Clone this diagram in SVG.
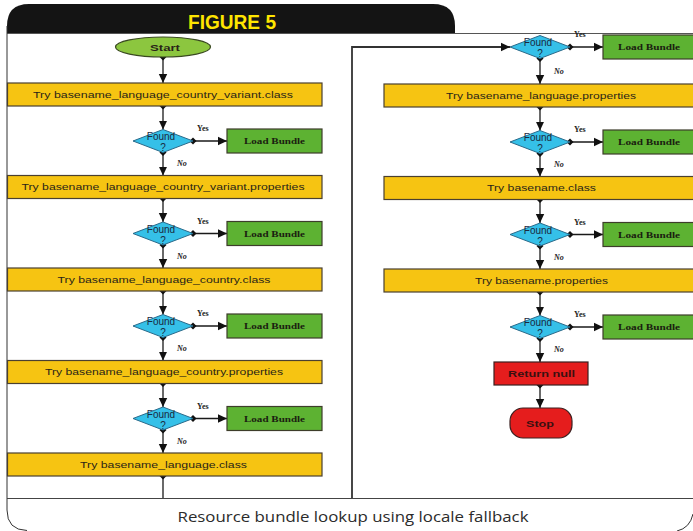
<svg xmlns="http://www.w3.org/2000/svg" width="693" height="531" viewBox="0 0 693 531">
  <defs>
    <marker id="arrow" markerUnits="userSpaceOnUse" markerWidth="10" markerHeight="10" viewBox="0 0 10 10" refX="9" refY="5" orient="auto">
      <path d="M0,0.8 L9,5 L0,9.2 Z" fill="#111"/>
    </marker>
    <marker id="dot" markerUnits="userSpaceOnUse" markerWidth="8" markerHeight="8" viewBox="0 0 8 8" refX="4" refY="4" orient="auto">
      <path d="M4,0.5 L7.5,4 L4,7.5 L0.5,4 Z" fill="#111"/>
    </marker>
    <style>
      .proc { fill: #f6c412; stroke: #4a4030; stroke-width: 1.2; }
      .load { fill: #5db232; stroke: #3d3d2a; stroke-width: 1.2; }
      .dec { fill: #35c0e8; stroke: #2a6a8a; stroke-width: 1; }
      .red { fill: #e51d1d; stroke: #3a2020; stroke-width: 1.2; }
      .ptxt { font-family: "Liberation Sans", Arial, sans-serif; font-size: 9px; fill: #2a2418; text-anchor: middle; }
      .ltxt { font-family: "Liberation Serif", "Times New Roman", serif; font-size: 9px; font-weight: bold; fill: #1a2010; text-anchor: middle; }
      .dtxt { font-family: "Liberation Sans", Arial, sans-serif; font-size: 10px; fill: #1a2a40; text-anchor: middle; }
      .yn { font-family: "Liberation Serif", "Times New Roman", serif; font-size: 8px; font-weight: bold; fill: #222; }
      .conn { fill: none; stroke: #1a1a1a; stroke-width: 1.3; marker-start: url(#dot); marker-end: url(#arrow); }
      .rtxt { font-family: "Liberation Sans", Arial, sans-serif; font-size: 9px; font-weight: bold; fill: #3a1010; text-anchor: middle; }
    </style>
  </defs>

  <!-- page frame -->
  <rect x="0" y="0" width="693" height="531" fill="#ffffff"/>
  <path d="M7,33 L7,26 Q7,4 29,4 L433,4 Q455,4 455,26 L455,33 Z" fill="#141414"/>
  <text x="232" y="29" font-family="Liberation Sans, Arial, sans-serif" font-size="20" font-weight="bold" fill="#ffe500" text-anchor="middle" textLength="88" lengthAdjust="spacingAndGlyphs">FIGURE  5</text>
  <line x1="7" y1="33.5" x2="693" y2="33.5" stroke="#555" stroke-width="1"/>
  <path d="M7,26 L7,510 Q7,530 27,530.5" fill="none" stroke="#333" stroke-width="1"/>
  <line x1="7" y1="498.5" x2="693" y2="498.5" stroke="#444" stroke-width="1"/>
  <path d="M693,514 Q690,528 677,531" fill="none" stroke="#333" stroke-width="1"/>
  <text x="353" y="522" font-family="Open Sans, Liberation Sans, sans-serif" font-size="15" fill="#2b2b2b" text-anchor="middle" textLength="351" lengthAdjust="spacingAndGlyphs">Resource bundle lookup using locale fallback</text>

  <!-- connectors -->
  <g id="connectors">
    <path class="conn" d="M163,57 L163,83"/>
    <!-- left column -->
    <path class="conn" d="M163,106 L163,129.5"/>
    <path class="conn" d="M193,141 L227,141"/>
    <path class="conn" d="M163,152.5 L163,175.5"/>
    <path class="conn" d="M163,198.5 L163,222"/>
    <path class="conn" d="M193,233.5 L227,233.5"/>
    <path class="conn" d="M163,245 L163,268"/>
    <path class="conn" d="M163,291 L163,314.5"/>
    <path class="conn" d="M193,326 L227,326"/>
    <path class="conn" d="M163,337.5 L163,360.5"/>
    <path class="conn" d="M163,383.5 L163,407"/>
    <path class="conn" d="M193,418.5 L227,418.5"/>
    <path class="conn" d="M163,430 L163,453"/>
    <!-- jump to the right column -->
    <path d="M163,476 L163,498" fill="none" stroke="#1a1a1a" stroke-width="1.3" marker-start="url(#dot)"/>
    <path d="M352,498 L352,47 L510,47" fill="none" stroke="#333" stroke-width="1.8" marker-end="url(#arrow)"/>
    <!-- right column -->
    <path class="conn" d="M570,47 L603,47"/>
    <path class="conn" d="M540,58.5 L540,84"/>
    <path class="conn" d="M540,107 L540,130.5"/>
    <path class="conn" d="M570,142 L603,142"/>
    <path class="conn" d="M540,153.5 L540,176.5"/>
    <path class="conn" d="M540,199.5 L540,223"/>
    <path class="conn" d="M570,234.5 L603,234.5"/>
    <path class="conn" d="M540,246 L540,269"/>
    <path class="conn" d="M540,292 L540,315.5"/>
    <path class="conn" d="M570,327 L603,327"/>
    <path class="conn" d="M540,338.5 L540,362"/>
    <path class="conn" d="M540,385 L540,408"/>
  </g>

  <!-- yes / no labels -->
  <g id="labels">
    <text class="yn" x="197" y="131">Yes</text>
    <text class="yn" x="177" y="166" font-style="italic">No</text>
    <text class="yn" x="197" y="223.5">Yes</text>
    <text class="yn" x="177" y="258.5" font-style="italic">No</text>
    <text class="yn" x="197" y="316">Yes</text>
    <text class="yn" x="177" y="351" font-style="italic">No</text>
    <text class="yn" x="197" y="408.5">Yes</text>
    <text class="yn" x="177" y="443.5" font-style="italic">No</text>
    <text class="yn" x="574" y="37">Yes</text>
    <text class="yn" x="554" y="74" font-style="italic">No</text>
    <text class="yn" x="574" y="132">Yes</text>
    <text class="yn" x="554" y="167" font-style="italic">No</text>
    <text class="yn" x="574" y="224.5">Yes</text>
    <text class="yn" x="554" y="259.5" font-style="italic">No</text>
    <text class="yn" x="574" y="317">Yes</text>
    <text class="yn" x="554" y="352" font-style="italic">No</text>
  </g>

  <!-- start -->
  <g id="start">
    <ellipse cx="163" cy="47" rx="47.5" ry="10" fill="#8cc63f" stroke="#3a4a20" stroke-width="1.2"/>
    <text x="165" y="50.5" class="ptxt" font-weight="bold" textLength="30" lengthAdjust="spacingAndGlyphs">Start</text>
  </g>

  <!-- left column -->
  <g id="try1">
    <rect class="proc" x="7.5" y="83" width="314.5" height="23"/>
    <text class="ptxt" x="163" y="97.5" textLength="260" lengthAdjust="spacingAndGlyphs">Try basename_language_country_variant.class</text>
  </g>
  <g id="found1">
    <path class="dec" d="M163,129.5 L193,141 L163,152.5 L133,141 Z"/>
    <text class="dtxt" x="161" y="140">Found</text>
    <text class="dtxt" x="163" y="151">?</text>
  </g>
  <g id="load1">
    <rect class="load" x="227" y="129" width="95" height="24"/>
    <text class="ltxt" x="274.5" y="144" textLength="61" lengthAdjust="spacingAndGlyphs">Load Bundle</text>
  </g>

  <g id="try2">
    <rect class="proc" x="7.5" y="175.5" width="314.5" height="23"/>
    <text class="ptxt" x="163" y="190" textLength="283" lengthAdjust="spacingAndGlyphs">Try basename_language_country_variant.properties</text>
  </g>
  <g id="found2">
    <path class="dec" d="M163,222 L193,233.5 L163,245 L133,233.5 Z"/>
    <text class="dtxt" x="161" y="232.5">Found</text>
    <text class="dtxt" x="163" y="243.5">?</text>
  </g>
  <g id="load2">
    <rect class="load" x="227" y="221.5" width="95" height="24"/>
    <text class="ltxt" x="274.5" y="236.5" textLength="61" lengthAdjust="spacingAndGlyphs">Load Bundle</text>
  </g>

  <g id="try3">
    <rect class="proc" x="7.5" y="268" width="314.5" height="23"/>
    <text class="ptxt" x="164" y="282.5" textLength="213" lengthAdjust="spacingAndGlyphs">Try basename_language_country.class</text>
  </g>
  <g id="found3">
    <path class="dec" d="M163,314.5 L193,326 L163,337.5 L133,326 Z"/>
    <text class="dtxt" x="161" y="325">Found</text>
    <text class="dtxt" x="163" y="336">?</text>
  </g>
  <g id="load3">
    <rect class="load" x="227" y="314" width="95" height="24"/>
    <text class="ltxt" x="274.5" y="329" textLength="61" lengthAdjust="spacingAndGlyphs">Load Bundle</text>
  </g>

  <g id="try4">
    <rect class="proc" x="7.5" y="360.5" width="314.5" height="23"/>
    <text class="ptxt" x="164" y="375" textLength="238" lengthAdjust="spacingAndGlyphs">Try basename_language_country.properties</text>
  </g>
  <g id="found4">
    <path class="dec" d="M163,407 L193,418.5 L163,430 L133,418.5 Z"/>
    <text class="dtxt" x="161" y="417.5">Found</text>
    <text class="dtxt" x="163" y="428.5">?</text>
  </g>
  <g id="load4">
    <rect class="load" x="227" y="406.5" width="95" height="24"/>
    <text class="ltxt" x="274.5" y="421.5" textLength="61" lengthAdjust="spacingAndGlyphs">Load Bundle</text>
  </g>

  <g id="try5">
    <rect class="proc" x="7.5" y="453" width="314.5" height="23"/>
    <text class="ptxt" x="163.5" y="467.5" textLength="167" lengthAdjust="spacingAndGlyphs">Try basename_language.class</text>
  </g>

  <!-- right column -->
  <g id="found5">
    <path class="dec" d="M540,35.5 L570,47 L540,58.5 L510,47 Z"/>
    <text class="dtxt" x="538" y="46">Found</text>
    <text class="dtxt" x="540" y="57">?</text>
  </g>
  <g id="load5">
    <rect class="load" x="603" y="35" width="96" height="24"/>
    <text class="ltxt" x="649" y="50" textLength="62" lengthAdjust="spacingAndGlyphs">Load Bundle</text>
  </g>

  <g id="try6">
    <rect class="proc" x="384" y="84" width="315" height="23"/>
    <text class="ptxt" x="541" y="98.5" textLength="190" lengthAdjust="spacingAndGlyphs">Try basename_language.properties</text>
  </g>
  <g id="found6">
    <path class="dec" d="M540,130.5 L570,142 L540,153.5 L510,142 Z"/>
    <text class="dtxt" x="538" y="141">Found</text>
    <text class="dtxt" x="540" y="152">?</text>
  </g>
  <g id="load6">
    <rect class="load" x="603" y="130" width="96" height="24"/>
    <text class="ltxt" x="649" y="145" textLength="62" lengthAdjust="spacingAndGlyphs">Load Bundle</text>
  </g>

  <g id="try7">
    <rect class="proc" x="384" y="176.5" width="315" height="23"/>
    <text class="ptxt" x="541.5" y="191" textLength="109" lengthAdjust="spacingAndGlyphs">Try basename.class</text>
  </g>
  <g id="found7">
    <path class="dec" d="M540,223 L570,234.5 L540,246 L510,234.5 Z"/>
    <text class="dtxt" x="538" y="233.5">Found</text>
    <text class="dtxt" x="540" y="244.5">?</text>
  </g>
  <g id="load7">
    <rect class="load" x="603" y="222.5" width="96" height="24"/>
    <text class="ltxt" x="649" y="237.5" textLength="62" lengthAdjust="spacingAndGlyphs">Load Bundle</text>
  </g>

  <g id="try8">
    <rect class="proc" x="384" y="269" width="315" height="23"/>
    <text class="ptxt" x="541.5" y="283.5" textLength="133" lengthAdjust="spacingAndGlyphs">Try basename.properties</text>
  </g>
  <g id="found8">
    <path class="dec" d="M540,315.5 L570,327 L540,338.5 L510,327 Z"/>
    <text class="dtxt" x="538" y="326">Found</text>
    <text class="dtxt" x="540" y="337">?</text>
  </g>
  <g id="load8">
    <rect class="load" x="603" y="315" width="96" height="24"/>
    <text class="ltxt" x="649" y="330" textLength="62" lengthAdjust="spacingAndGlyphs">Load Bundle</text>
  </g>

  <g id="return-null">
    <rect class="red" x="494" y="362" width="94" height="23"/>
    <text class="rtxt" x="541.5" y="376.5" textLength="67" lengthAdjust="spacingAndGlyphs">Return null</text>
  </g>
  <g id="stop">
    <rect class="red" x="510" y="408" width="62" height="30" rx="13" ry="13"/>
    <text class="rtxt" x="540" y="427" font-size="11" textLength="28" lengthAdjust="spacingAndGlyphs">Stop</text>
  </g>
</svg>
